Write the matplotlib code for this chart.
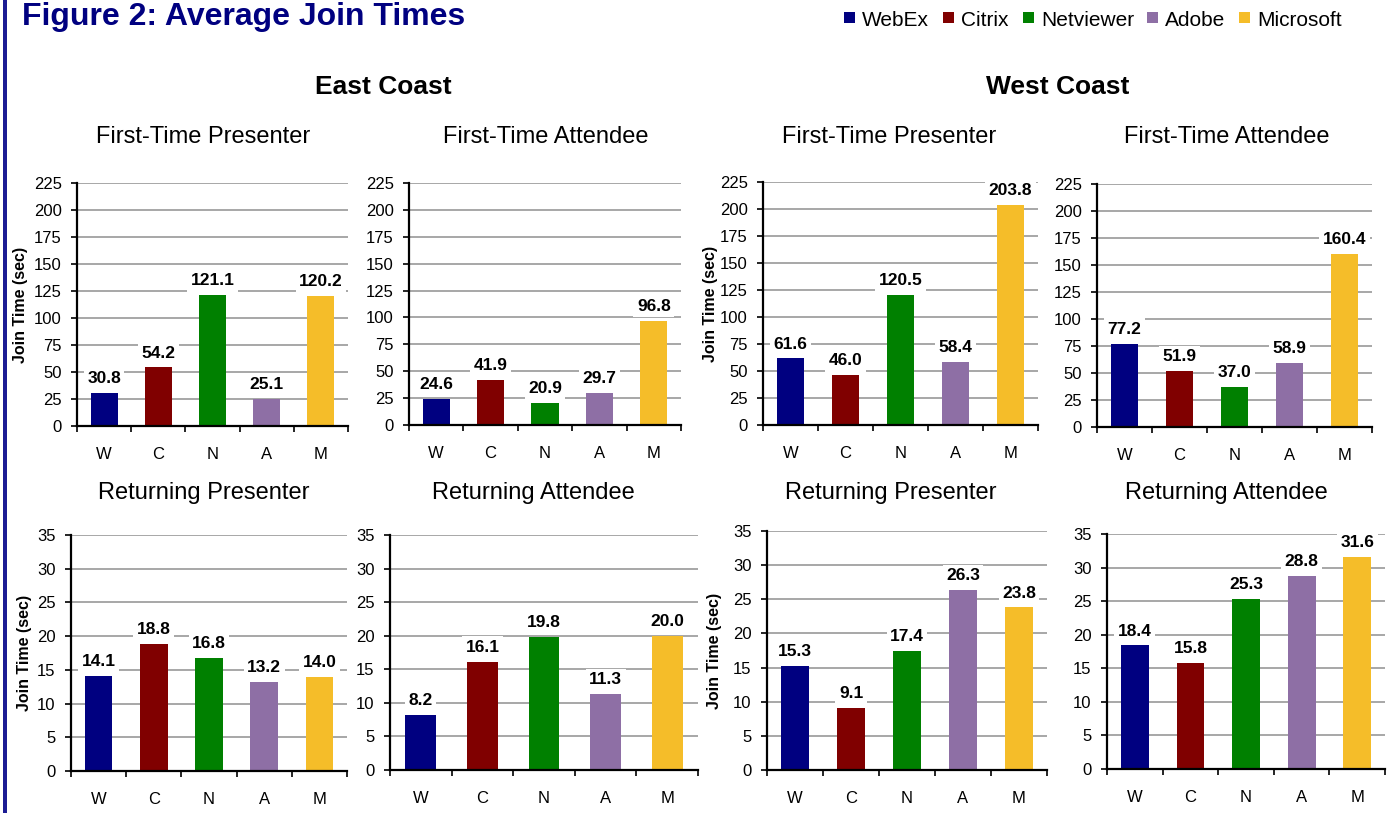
import numpy as np
import matplotlib.pyplot as plt
from matplotlib.patches import Rectangle

plt.rcParams['font.family'] = ['Liberation Sans', 'DejaVu Sans']

companies = ['WebEx', 'Citrix', 'Netviewer', 'Adobe', 'Microsoft']
short_names = ['W', 'C', 'N', 'A', 'M']
colors = ['#000080', '#800000', '#008000', '#8e6fa5', '#f5bd29']

# join times in seconds, order follows companies
east_first_presenter = [30.8, 54.2, 121.1, 25.1, 120.2]
east_first_attendee = [24.6, 41.9, 20.9, 29.7, 96.8]
west_first_presenter = [61.6, 46.0, 120.5, 58.4, 203.8]
west_first_attendee = [77.2, 51.9, 37.0, 58.9, 160.4]
east_ret_presenter = [14.1, 18.8, 16.8, 13.2, 14.0]
east_ret_attendee = [8.2, 16.1, 19.8, 11.3, 20.0]
west_ret_presenter = [15.3, 9.1, 17.4, 26.3, 23.8]
west_ret_attendee = [18.4, 15.8, 25.3, 28.8, 31.6]

W, H = 1399, 813
fig = plt.figure(figsize=(W / 100, H / 100), dpi=100)


def px_rect(l, t, r, b):
    return [l / W, 1 - b / H, (r - l) / W, (b - t) / H]


# values, title, ymax, step, axes box (px), title centre x, ylabel x (px or None)
panels = [
    (east_first_presenter, 'First-Time Presenter', 225, 25, (77, 183, 348, 426), 203, 21),
    (east_first_attendee, 'First-Time Attendee', 225, 25, (409, 183, 681, 425), 546, None),
    (west_first_presenter, 'First-Time Presenter', 225, 25, (763, 182, 1038, 425), 889, 710),
    (west_first_attendee, 'First-Time Attendee', 225, 25, (1097, 184, 1372, 427), 1227, None),
    (east_ret_presenter, 'Returning Presenter', 35, 5, (71, 535, 347, 771), 204, 25),
    (east_ret_attendee, 'Returning Attendee', 35, 5, (390, 535, 698, 770), 533, None),
    (west_ret_presenter, 'Returning Presenter', 35, 5, (767, 531, 1047, 770), 891, 715),
    (west_ret_attendee, 'Returning Attendee', 35, 5, (1107, 534, 1385, 769), 1226, None),
]

x = np.arange(len(companies))

for vals, title, ymax, step, box, tx, ylx in panels:
    l, t, r, b = box
    ax = fig.add_axes(px_rect(l, t, r, b))
    bars = ax.bar(x, vals, width=0.5, color=colors, zorder=2)
    for bar, v in zip(bars, vals):
        ax.annotate(f'{v:.1f}', (bar.get_x() + bar.get_width() / 2, v),
                    xytext=(0, 5), textcoords='offset points',
                    ha='center', va='bottom', fontsize=12.5, fontweight='bold',
                    zorder=4,
                    bbox=dict(facecolor='white', edgecolor='none', pad=2.5))
    ax.set_xlim(-0.5, 4.5)
    ax.set_ylim(0, ymax)
    ax.set_yticks(np.arange(0, ymax + 1, step))
    ax.set_xticks(x)
    ax.set_xticklabels(short_names)
    ax.set_xticks(np.arange(-0.5, 5, 1), minor=True)
    ax.tick_params(axis='x', which='major', length=0, pad=15, labelsize=12)
    ax.tick_params(axis='x', which='minor', length=4, width=1.2, direction='out')
    ax.tick_params(axis='y', length=4, width=1.2, direction='out', pad=7, labelsize=12)
    ax.grid(axis='y', color='#a0a0a0', linewidth=1.3, zorder=0)
    ax.set_axisbelow(True)
    for s in ['top', 'right']:
        ax.spines[s].set_visible(False)
    for s in ['left', 'bottom']:
        ax.spines[s].set_linewidth(1.6)
        ax.spines[s].set_zorder(3)
    if ylx is not None:
        ax.set_ylabel('Join Time (sec)', fontsize=11.5, fontweight='bold', va='center')
        ax.yaxis.set_label_coords((ylx - l) / (r - l), 0.5)
    ty = 137 if t < 300 else 493
    fig.text(tx / W, 1 - ty / H, title, ha='center', va='center', fontsize=17)

# region headings
fig.text(383 / W, 1 - 87 / H, 'East Coast', ha='center', va='center',
         fontsize=19, fontweight='bold')
fig.text(1058 / W, 1 - 87 / H, 'West Coast', ha='center', va='center',
         fontsize=19, fontweight='bold')

# figure title and left rule
fig.text(22 / W, 1 - 17 / H, 'Figure 2: Average Join Times', ha='left', va='center',
         fontsize=23, fontweight='bold', color='#000080')
fig.add_artist(Rectangle((3 / W, 0), 4 / W, 1, transform=fig.transFigure,
                         facecolor='#1c1c94', edgecolor='none'))

# legend
leg_x = [844, 943, 1023, 1147, 1239]
for lx, name, c in zip(leg_x, companies, colors):
    fig.add_artist(Rectangle((lx / W, 1 - 23 / H), 11 / W, 11 / H,
                             transform=fig.transFigure, facecolor=c, edgecolor='none'))
    fig.text((lx + 18) / W, 1 - 21 / H, name, ha='left', va='center', fontsize=15)

fig.savefig('out.png', dpi=100)
